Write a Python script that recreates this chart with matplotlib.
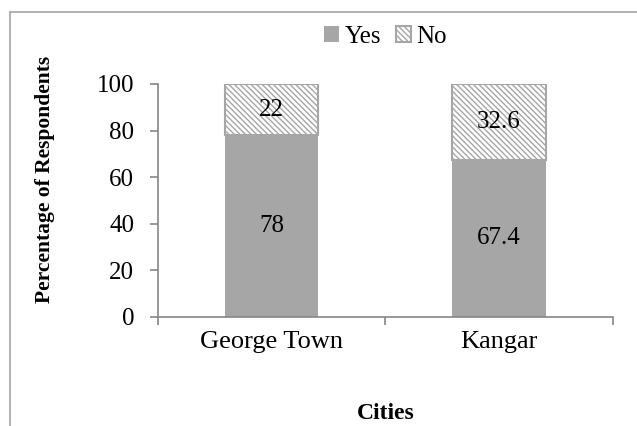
import matplotlib.pyplot as plt
from matplotlib.lines import Line2D

cities = ['George Town', 'Kangar']
yes_pct = [78, 67.4]
no_pct = [22, 32.6]

plt.rcParams['font.family'] = ['Liberation Serif', 'DejaVu Serif']
plt.rcParams['hatch.linewidth'] = 1.0
plt.rcParams['hatch.color'] = '#7a7a7a'

fig = plt.figure(figsize=(6.37, 4.26), dpi=100)
ax = fig.add_axes([0.248, 0.256, 0.714, 0.547])

x = range(len(cities))
bars_yes = ax.bar(x, yes_pct, width=0.41, color='#a6a6a6', label='Yes')
bars_no = ax.bar(x, no_pct, width=0.41, bottom=yes_pct, color='white',
                 edgecolor='#a6a6a6', hatch='\\\\\\\\\\\\', linewidth=1.5, label='No')
ax.bar_label(bars_yes, labels=['78', '67.4'], label_type='center', fontsize=18)
ax.bar_label(bars_no, labels=['22', '32.6'], label_type='center', fontsize=18)

ax.set_xlim(-0.5, 1.5)
ax.set_ylim(0, 100)
ax.set_yticks(range(0, 101, 20))
ax.set_xticks(list(x))
ax.set_xticklabels(cities)
ax.set_xticks([-0.5, 0.5, 1.5], minor=True)
ax.tick_params(axis='x', which='major', length=0, labelsize=19, pad=10)
ax.tick_params(axis='x', which='minor', length=6, color='#868686', width=1.2)
ax.tick_params(axis='y', length=6, color='#868686', width=1.2, labelsize=18, pad=11)
for s in ['top', 'right']:
    ax.spines[s].set_visible(False)
for s in ['left', 'bottom']:
    ax.spines[s].set_color('#868686')
    ax.spines[s].set_linewidth(1.2)

ax.set_ylabel('Percentage of Respondents', fontsize=15.5, fontweight='bold')
ax.yaxis.set_label_coords(-0.226, 0.592)
ax.set_xlabel('Cities', fontsize=17, fontweight='bold', labelpad=36)

fig.legend(loc='center', bbox_to_anchor=(0.605, 0.913), ncol=2, frameon=False,
           fontsize=18, handlelength=0.6, handleheight=0.6, handletextpad=0.2,
           columnspacing=0.6)

# chart area border (cut off at right and bottom)
fig.add_artist(Line2D([10/637, 1], [1 - 12/426, 1 - 12/426], color='#a6a6a6', lw=1.2))
fig.add_artist(Line2D([10/637, 10/637], [0, 1 - 12/426], color='#a6a6a6', lw=1.2))

fig.savefig('out.png', dpi=100)
